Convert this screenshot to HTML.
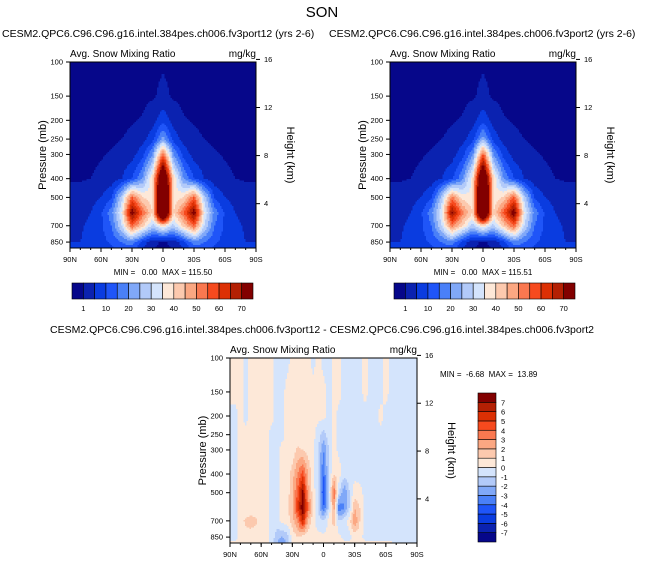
<!DOCTYPE html>
<html><head><meta charset="utf-8"><style>
html,body{margin:0;padding:0;background:#fff;}
svg{display:block;font-family:"Liberation Sans",sans-serif;}
</style></head><body>
<svg id="s" width="645" height="565" viewBox="0 0 645 565">
<text x="322" y="17" font-size="15" text-anchor="middle">SON</text>
</svg>
<script>
// ---- data ----
const topLats=[90,80,70,60,50,40,30,20,10,0,-10,-20,-30,-40,-50,-60,-70,-80,-90];
const levelsP=[100,150,200,250,300,400,500,600,700,850,925];
const snowA=[
[.2,.2,.2,.2,.2,.2,.2,.2,.3,.6,.3,.2,.2,.2,.2,.2,.2,.2,.2],
[.2,.2,.2,.2,.2,.2,.2,.3,.6,1.8,.6,.3,.2,.2,.2,.2,.2,.2,.2],
[.3,.3,.3,.3,.4,.5,.8,1.2,3,8,3,1.2,.8,.5,.4,.3,.3,.3,.3],
[.4,.4,.4,.5,.7,1,1.5,3,8,22,8,3,1.5,1,.7,.5,.4,.4,.4],
[.5,.5,.6,.8,1.2,1.6,3,8,20,55,20,8,3,1.6,1.2,.8,.6,.5,.5],
[.8,.8,1,1.5,2.5,5,10,20,40,95,40,20,10,5,2.5,1.5,1,.8,.8],
[2,2,3,5,9,28,55,40,36,115,36,40,55,28,9,5,3,2,2],
[3,3.5,5,9,18,35,75,55,40,110,40,55,75,35,18,9,5,3.5,3],
[4,4.5,6,9,15,30,55,42,28,40,28,42,55,30,15,9,6,4.5,4],
[5,5,6,8,11,15,18,8,2,.5,2,8,18,15,11,8,6,5,5],
[5,5,6,7,9,12,12,5,1,.3,1,5,12,12,9,7,6,5,5]];
const snowB=[
[.2,.2,.2,.2,.2,.2,.2,.2,.3,.6,.3,.2,.2,.2,.2,.2,.2,.2,.2],
[.2,.2,.2,.2,.2,.2,.2,.3,.6,1.8,.6,.3,.2,.2,.2,.2,.2,.2,.2],
[.3,.3,.3,.3,.4,.5,.8,1.2,3,8,3,1.2,.8,.5,.4,.3,.3,.3,.3],
[.4,.4,.4,.5,.7,1,1.5,3,8,23,8,3,1.5,1,.7,.5,.4,.4,.4],
[.5,.5,.6,.8,1.2,1.6,3,8,19,56,20,8,3,1.6,1.2,.8,.6,.5,.5],
[.8,.8,1,1.5,2.5,5,9,19,38,96,40,20,10,5,2.5,1.5,1,.8,.8],
[2,2,3,5,9,27,52,38,36,115,36,41,56,28,9,5,3,2,2],
[3,3.5,5,9,18,34,72,52,40,110,40,56,76,35,18,9,5,3.5,3],
[4,4.5,6,9,15,30,52,40,28,40,28,43,55,30,15,9,6,4.5,4],
[5,5,6,8,11,15,18,8,2,.5,2,8,18,15,11,8,6,5,5],
[5,5,6,7,9,12,12,5,1,.3,1,5,12,12,9,7,6,5,5]];
const diffLats=[90,85,80,75,70,65,60,55,50,45,40,35,30,25,20,15,10,5,0,-5,-10,-15,-20,-25,-30,-35,-40,-45,-50,-55,-60,-65,-70,-75,-80,-85,-90];
const snowDiff=[
[.3,.3,.3,-.3,.3,.3,.3,.3,.3,-.3,-.3,-.3,.3,.3,.3,.3,-.3,.3,-.3,-.3,.3,.3,-.3,-.3,-.3,-.3,.3,-.3,-.3,-.3,.3,-.3,-.3,-.3,-.3,-.3,-.3],
[.3,.3,.3,-.3,.3,.3,.3,.3,.3,-.3,-.3,.3,.3,.3,.3,.3,.3,.3,.3,-.3,.3,.3,-.3,-.3,-.3,-.3,.3,-.3,-.3,-.3,.3,-.3,-.3,-.3,-.3,-.3,-.3],
[-.3,-.3,.3,-.3,.3,.3,.3,.3,.3,-.3,-.3,.3,.3,.3,.3,.3,.3,.3,.3,-.3,.3,-.3,-.3,-.3,-.3,-.3,-.3,-.3,-.3,.3,-.3,-.3,-.3,-.3,-.3,-.3,-.3],
[-.3,-.3,.3,.3,.3,.3,.3,.3,-.3,-.3,-.3,.3,.3,.3,.3,.3,.3,-.5,-1.5,-.5,.3,-.3,-.3,-.3,-.3,-.3,-.3,-.3,-.3,-.3,-.3,-.3,-.3,-.3,-.3,-.3,-.3],
[-.3,-.3,.3,.3,.3,.3,.3,.3,-.3,-.3,.3,.3,.3,1.2,1,.5,.3,-1,-3,-1,.5,-.3,-.3,-.3,-.3,-.3,-.3,-.3,-.3,-.3,-.3,-.3,-.3,-.3,-.3,-.3,-.3],
[-.3,-.3,.3,.3,.3,.3,.3,.3,-.3,-.3,.3,.3,1.5,3,4.5,2,.3,-1,-4,-1,1,.5,-.5,-.3,-.3,-.3,-.3,-.3,-.3,-.3,-.3,-.3,-.3,-.3,-.3,-.3,-.3],
[-.3,-.3,.3,.3,.3,.3,.3,.3,-.3,-.3,.3,.3,2,4,7.5,2.5,.5,-1,-5,-1,4,-1,-3,-1,.5,.3,-.3,-.3,-.3,-.3,-.3,-.3,-.3,-.3,-.3,-.3,-.3],
[-.3,-.3,.3,.3,.3,.3,.3,.5,-.3,-.3,.3,.5,2,5,8,4,1,-1,-4,-1,2.5,-4,-3,-1,2,1,-.3,-.3,-.3,-.3,-.3,-.3,-.3,-.3,-.5,-.5,-.3],
[-.3,-.3,.5,1.2,1.5,1.2,.5,.3,-.3,-.5,.3,.5,1.5,3,6,2,.3,-.5,-1,.3,1.5,-1,-.5,.5,3,1,-.3,-.3,-.3,-.3,-.3,-.3,-.3,-.3,-.5,-.5,-.3],
[-.3,-.3,.3,.5,.5,.3,.3,.3,-.3,-1.5,-2,-1.5,.3,1,.5,.3,.3,.3,.3,.3,.3,.3,-.3,-.3,.3,.3,-.3,-.3,-.3,-.3,-.3,-.3,-.3,-.3,-.3,-.3,-.3],
[.3,.3,.5,.5,.3,.3,.3,.3,-.5,-2,-3,-2,.3,.3,.3,.3,.3,.3,.3,.3,.3,.3,.3,.3,.3,.3,.3,.3,.3,.3,.3,.3,-.3,-.3,-.3,-.3,-.3]];
const topLevels=[1,5,10,15,20,25,30,35,40,45,50,55,60,65,70];
const topLabels=["1","10","20","30","40","50","60","70"];
const diffLevels=[-7,-6,-5,-4,-3,-2,-1,0,1,2,3,4,5,6,7];
const pTicks=[100,150,200,250,300,400,500,700,850];
const kmTicks=[16,12,8,4];
const latTicks=["90N","60N","30N","0","30S","60S","90S"];
const colors=["#06078a","#0b22b0","#0a3ce0","#1f55f8","#4a80f8","#80a8f8","#b2caf9","#d4e4fc","#fde8d8","#fcc9ae","#fba782","#fa7850","#f64a1e","#dc3004","#b42004","#820000"];

const S=document.getElementById('s');
const NS="http://www.w3.org/2000/svg";
function el(t,a,p){const e=document.createElementNS(NS,t);for(const k in a)e.setAttribute(k,a[k]);(p||S).appendChild(e);return e;}
function txt(x,y,s,size,anchor,p){const e=el('text',{x:x,y:y,'font-size':size,'text-anchor':anchor||'start'},p);e.textContent=s;return e;}
function cidx(v,lv){let i=0;while(i<lv.length&&v>=lv[i])i++;return i;}

function panel(opt){
  const g=el('g',{});
  
  
  const X0=opt.x,Y0=opt.y,W=opt.w,H=opt.h;
  const dec=H/0.96;
  const yOfP=p=>Y0+(Math.log10(p)-2)*dec;
  const lats=opt.lats,data=opt.data;
  const xOfLat=l=>X0+(90-l)/180*W;
  const fg=el('g',{},g);
  
  
  const step=1.5;
  const lp=levelsP.map(p=>Math.log10(p));
  function val(lat,lpv){
    let k=0;while(k<lp.length-2&&lpv>lp[k+1])k++;
    let ty=(lpv-lp[k])/(lp[k+1]-lp[k]);ty=Math.max(0,Math.min(1,ty));
    const fi=(lats[0]-lat)/(lats[0]-lats[1]);
    let i=Math.min(lats.length-2,Math.max(0,Math.floor(fi)));const tx=Math.max(0,Math.min(1,fi-i));
    return (data[k][i]*(1-tx)+data[k][i+1]*tx)*(1-ty)+(data[k+1][i]*(1-tx)+data[k+1][i+1]*tx)*ty;
  }
  for(let py=0;py<H;py+=step){
    const lpv=2+(py+step/2)/dec;
    let runStart=0,runC=-1;
    const n=Math.ceil(W/step);
    for(let j=0;j<=n;j++){
      const px=j*step;
      let c=-2;
      if(j<n){c=cidx(val(90-(px+step/2)/W*180,lpv),opt.levels);}
      if(c!==runC){
        if(runC>=0){const r=el('rect',{x:X0+runStart,y:Y0+py,width:Math.min(px,W)-runStart+0.4,height:Math.min(step+0.4,H-py),fill:colors[runC]},fg);
          
          }
        runStart=px;runC=c;
      }
    }
  }
  const fr=el('rect',{x:X0,y:Y0,width:W,height:H,fill:'none',stroke:'#000','stroke-width':1},g);
  
  
  pTicks.forEach(p=>{const y=yOfP(p);el('line',{x1:X0-4,y1:y,x2:X0,y2:y,stroke:'#000'},g);
    const t=txt(X0-7,y+2.5,String(p),7.5,'end',g);
    
    });
  kmTicks.forEach(km=>{const p=1000*Math.exp(-km/7);const y=yOfP(p)-4;el('line',{x1:X0+W,y1:y,x2:X0+W+4,y2:y,stroke:'#000'},g);
    const t=txt(X0+W+8,y+2.5,String(km),7.5,'start',g);
    
    });
  latTicks.forEach((s,i)=>{const x=X0+i*W/6;el('line',{x1:x,y1:Y0+H,x2:x,y2:Y0+H+4,stroke:'#000'},g);
    const t=txt(x,Y0+H+14,s,7.5,'middle',g);
    
    });
  for(let l=80;l>-90;l-=10){const x=xOfLat(l);el('line',{x1:x,y1:Y0+H,x2:x,y2:Y0+H+2,stroke:'#000'},g);}
  const yl=txt(0,0,'Pressure (mb)',11,'middle',g);yl.setAttribute('transform',`translate(${X0-24},${Y0+H/2}) rotate(-90)`);
  
  
  const yr=txt(0,0,'Height (km)',11,'middle',g);yr.setAttribute('transform',`translate(${X0+W+31},${Y0+H/2}) rotate(90)`);
  
  
  const a=txt(X0,Y0-5,'Avg. Snow Mixing Ratio',10,'start',g);
  
  
  const u=txt(X0+W,Y0-5,'mg/kg',10,'end',g);
  
  
}
panel({name:'panel-left',x:70,y:62,w:186,h:186,lats:topLats,data:snowA,levels:topLevels});
panel({name:'panel-right',x:390,y:62,w:186,h:186,lats:topLats,data:snowB,levels:topLevels});
panel({name:'panel-diff',x:230,y:358,w:187,h:185,lats:diffLats,data:snowDiff,levels:diffLevels});

function hbar(x,y,w,h,name){
  const g=el('g',{});
  const bw=w/16;
  colors.forEach((c,i)=>{const r=el('rect',{x:x+i*bw,y:y,width:bw,height:h,fill:c,stroke:'#000','stroke-width':0.6},g);
    
    });
  topLabels.forEach((s,i)=>{const t=txt(x+(1+2*i)*bw,y+h+12,s,7.5,'middle',g);
    
    });
}
hbar(72,283,181,16,'colorbar-left');
hbar(394,283,181,16,'colorbar-right');
(function(){
  const g=el('g',{});
  const x=478,y=393,w=18,h=149,bh=h/16;
  colors.forEach((c,i)=>{const r=el('rect',{x:x,y:y+(15-i)*bh,width:w,height:bh,fill:c,stroke:'#000','stroke-width':0.6},g);
    
    });
  diffLevels.forEach((v,i)=>{const t=txt(x+w+5,y+(15-i)*bh+3,String(v),7.5,'start',g);
    
    });
})();
[[2,37,'CESM2.QPC6.C96.C96.g16.intel.384pes.ch006.fv3port12 (yrs 2-6)','start','title-left'],
 [329,37,'CESM2.QPC6.C96.C96.g16.intel.384pes.ch006.fv3port2 (yrs 2-6)','start','title-right'],
 [322,333,'CESM2.QPC6.C96.C96.g16.intel.384pes.ch006.fv3port12 - CESM2.QPC6.C96.C96.g16.intel.384pes.ch006.fv3port2','middle','title-diff']
].forEach(a=>{const t=txt(a[0],a[1],a[2],10.5,a[3]);});
[[163,275,'MIN =   0.00  MAX = 115.50','middle','minmax-left'],
 [483,275,'MIN =   0.00  MAX = 115.51','middle','minmax-right'],
 [440,377,'MIN =  -6.68  MAX =  13.89','start','minmax-diff']
].forEach(a=>{const t=txt(a[0],a[1],a[2],8,a[3]);t.style.whiteSpace='pre';});
</script>
</body></html>
